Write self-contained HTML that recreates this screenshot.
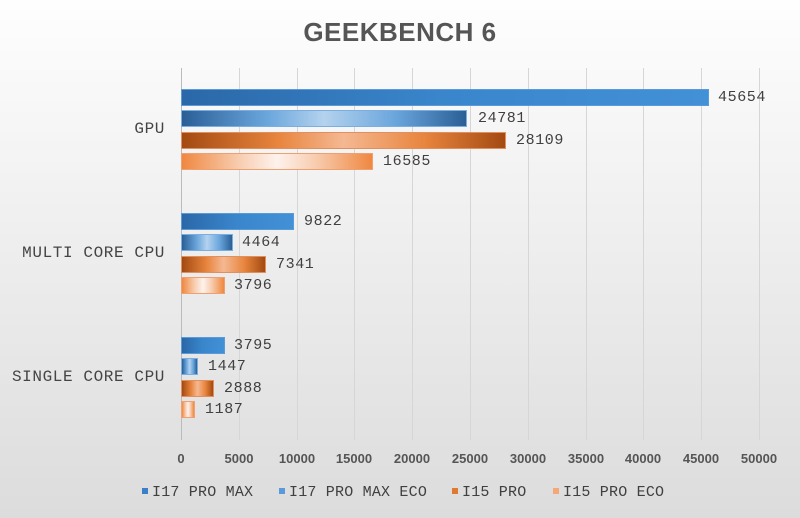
<!DOCTYPE html><html><head><style>
body{margin:0}
.c{width:800px;height:518px;position:relative;overflow:hidden;background:linear-gradient(#fefefe,#dcdcdc);font-family:"Liberation Mono",monospace;color:#404040}
.t{position:absolute;top:17px;width:100%;text-align:center;font:bold 26px "Liberation Sans",sans-serif;color:#555;letter-spacing:0.5px}
.g{position:absolute;top:68px;height:372px;width:1px;background:#d6d6d6}
.x{position:absolute;top:451px;width:60px;margin-left:-30px;text-align:center;font:bold 13px "Liberation Sans",sans-serif;color:#555}
.b{position:absolute;left:181px;height:17px;box-sizing:border-box}
.v{position:absolute;font-size:15px;line-height:17px;letter-spacing:0.6px}
.cat{position:absolute;right:635px;font-size:16px;letter-spacing:0.6px;color:#444}
.s1{background:linear-gradient(90deg,#2a68a8,#3a86cc 50%,#4290d6);border:1px solid #5a9ad8}
.s2{background:linear-gradient(90deg,#2a5f96,#6aa6dc 30%,#b4d2ee 50%,#6aa6dc 75%,#2a5f96);border:1px solid #7aaee0}
.s3{background:linear-gradient(90deg,#a34a12,#e8853e 30%,#f5b892 50%,#e8853e 75%,#a34a12);border:1px solid #e09060}
.s4{background:linear-gradient(90deg,#ef8840,#f8cdb0 30%,#fdf2ec 50%,#f8cdb0 70%,#ef8840);border:1px solid #f0a070}
.l{position:absolute;top:484px;font-size:15px;letter-spacing:0.2px}
.l i{display:inline-block;width:6px;height:6px;margin-right:4px;vertical-align:2px}
</style></head><body><div class="c">
<div class="t">GEEKBENCH 6</div>
<div class="g" style="left:181px;background:#bbb"></div>
<div class="g" style="left:239px"></div><div class="g" style="left:297px"></div><div class="g" style="left:354px"></div><div class="g" style="left:412px"></div><div class="g" style="left:470px"></div><div class="g" style="left:528px"></div><div class="g" style="left:586px"></div><div class="g" style="left:643px"></div><div class="g" style="left:701px"></div><div class="g" style="left:759px"></div>
<div class="x" style="left:181px">0</div><div class="x" style="left:239px">5000</div><div class="x" style="left:297px">10000</div><div class="x" style="left:354px">15000</div><div class="x" style="left:412px">20000</div><div class="x" style="left:470px">25000</div><div class="x" style="left:528px">30000</div><div class="x" style="left:586px">35000</div><div class="x" style="left:643px">40000</div><div class="x" style="left:701px">45000</div><div class="x" style="left:759px">50000</div>
<div class="cat" style="top:120px">GPU</div>
<div class="cat" style="top:244px">MULTI CORE CPU</div>
<div class="cat" style="top:368px">SINGLE CORE CPU</div>

<div class="b s1" style="top:89px;width:528px"></div><div class="v" style="top:89px;left:718px">45654</div>
<div class="b s2" style="top:110px;width:286px"></div><div class="v" style="top:110px;left:478px">24781</div>
<div class="b s3" style="top:132px;width:325px"></div><div class="v" style="top:132px;left:516px">28109</div>
<div class="b s4" style="top:153px;width:192px"></div><div class="v" style="top:153px;left:383px">16585</div>

<div class="b s1" style="top:213px;width:113px"></div><div class="v" style="top:213px;left:304px">9822</div>
<div class="b s2" style="top:234px;width:52px"></div><div class="v" style="top:234px;left:242px">4464</div>
<div class="b s3" style="top:256px;width:85px"></div><div class="v" style="top:256px;left:276px">7341</div>
<div class="b s4" style="top:277px;width:44px"></div><div class="v" style="top:277px;left:234px">3796</div>

<div class="b s1" style="top:337px;width:44px"></div><div class="v" style="top:337px;left:234px">3795</div>
<div class="b s2" style="top:358px;width:17px"></div><div class="v" style="top:358px;left:208px">1447</div>
<div class="b s3" style="top:380px;width:33px"></div><div class="v" style="top:380px;left:224px">2888</div>
<div class="b s4" style="top:401px;width:14px"></div><div class="v" style="top:401px;left:205px">1187</div>

<div class="l" style="left:142px"><i style="background:#3a80c8"></i>I17 PRO MAX</div>
<div class="l" style="left:279px"><i style="background:#5a9ad8"></i>I17 PRO MAX ECO</div>
<div class="l" style="left:452px"><i style="background:#e07a30"></i>I15 PRO</div>
<div class="l" style="left:553px"><i style="background:#f4a878"></i>I15 PRO ECO</div>
</div></body></html>
